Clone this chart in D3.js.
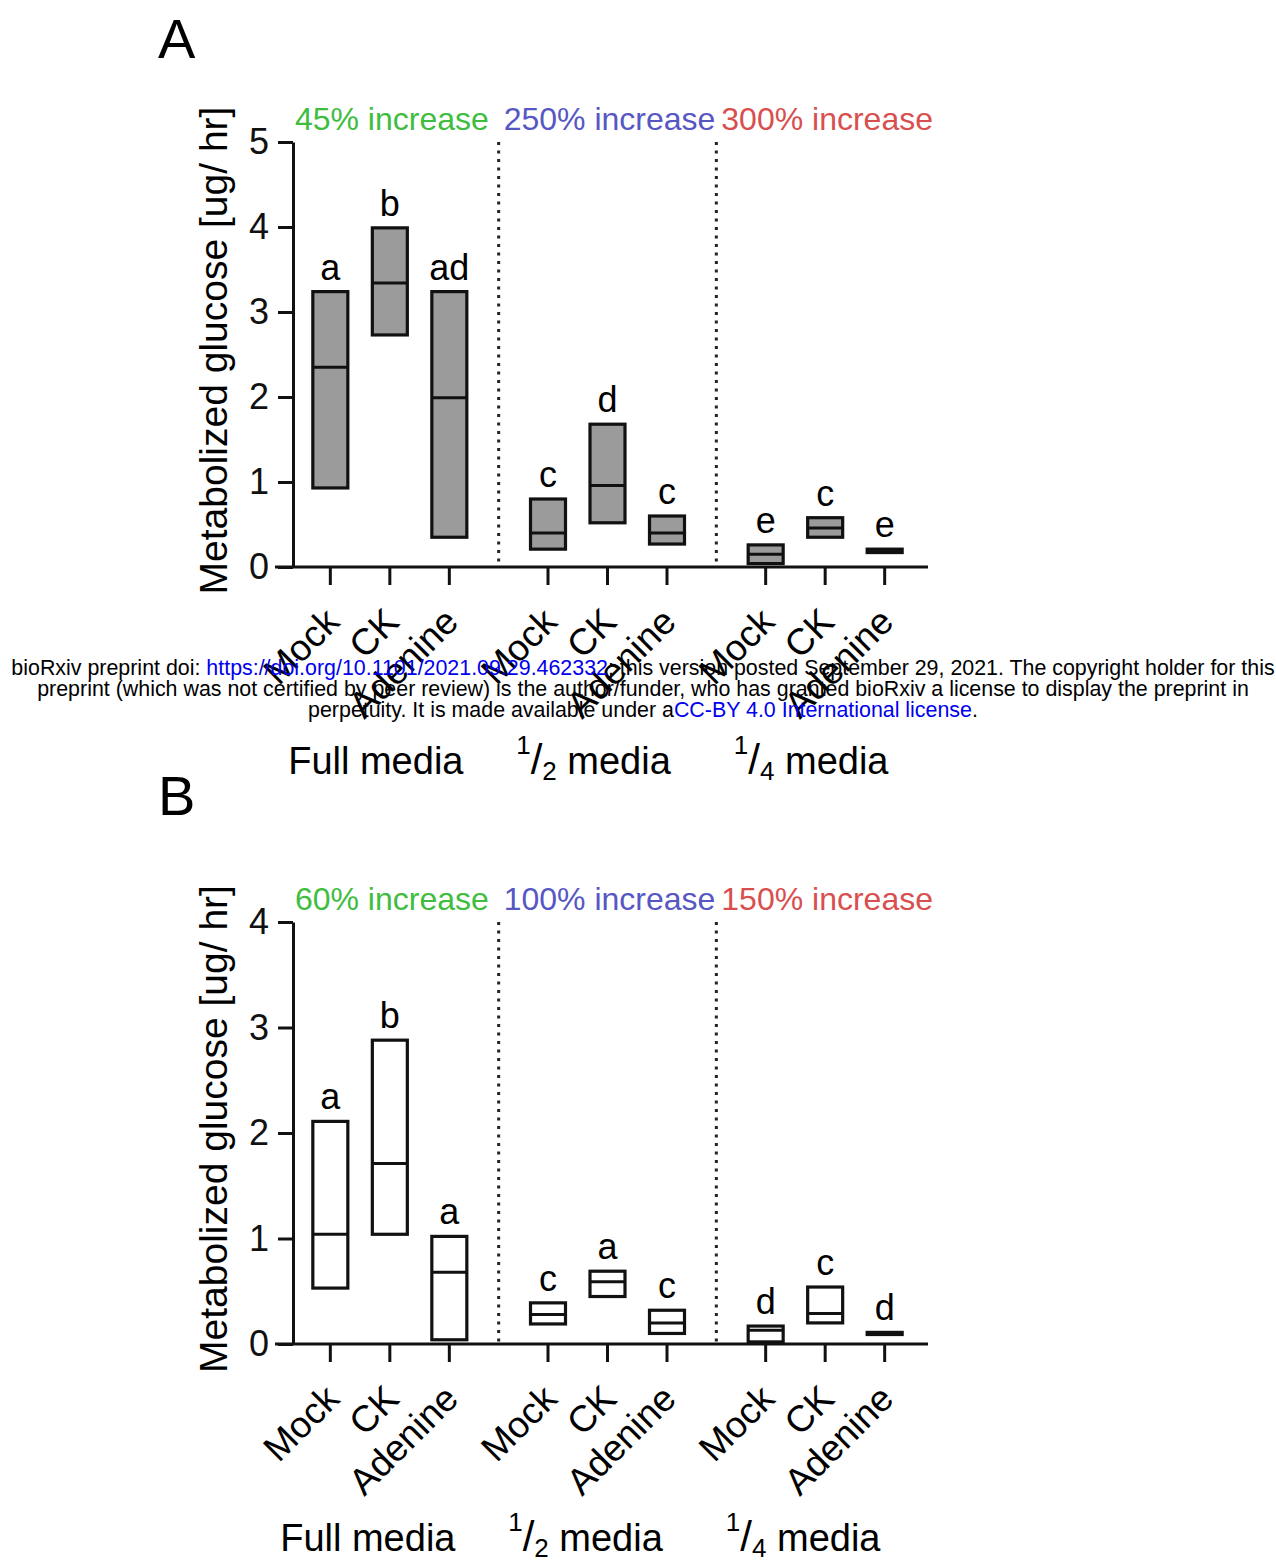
<!DOCTYPE html>
<html>
<head>
<meta charset="utf-8">
<script src="https://cdn.jsdelivr.net/npm/d3@7"></script>
<style>
	body { margin: 0; background: #fff; }
	svg { display: block; font-family: "Liberation Sans", Arial, Helvetica, sans-serif; }
	.bar { stroke: #111; stroke-width: 3.2px; }
	.median { stroke: #111; stroke-width: 3px; }
	.divider { stroke: #222; stroke-width: 3px; stroke-dasharray: 3,5.5; }
	.axis path, .axis line, .baseline, .xtick { stroke: #111; stroke-width: 3px; }
</style>
</head>
<body>
<script>

// categories
const treatments = ["Mock", "CK", "Adenine"];
const mediaKeys = ["full", "half", "quarter"];
const mediaLabels = ["Full media", "1/2 media", "1/4 media"];
const increaseColors = ["#3fbd3f", "#5757c4", "#d94f4f"];

// panel A: min / max / median per bar (Full Mock, CK, Adenine, 1/2 ..., 1/4 ...)
const aMin = [0.93, 2.73, 0.35, 0.21, 0.52, 0.27, 0.04, 0.35, 0.17];
const aMax = [3.24, 3.99, 3.24, 0.80, 1.68, 0.60, 0.26, 0.58, 0.21];
const aMed = [2.35, 3.34, 1.99, 0.40, 0.96, 0.40, 0.15, 0.46, 0.19];
const aLetters = ["a", "b", "ad", "c", "d", "c", "e", "c", "e"];
const aIncrease = ["45% increase", "250% increase", "300% increase"];
const aTicks = [0, 1, 2, 3, 4, 5];

// panel B
const bMin = [0.53, 1.04, 0.04, 0.19, 0.45, 0.10, 0.02, 0.20, 0.09];
const bMax = [2.11, 2.88, 1.02, 0.39, 0.69, 0.32, 0.17, 0.54, 0.11];
const bMed = [1.04, 1.71, 0.68, 0.28, 0.59, 0.20, 0.13, 0.29, 0.10];
const bLetters = ["a", "b", "a", "c", "a", "c", "d", "c", "d"];
const bIncrease = ["60% increase", "100% increase", "150% increase"];
const bTicks = [0, 1, 2, 3, 4];

const yTitle = "Metabolized glucose [ug/ hr]";

const svg = d3.select("body").append("svg")
	.attr("width", 1276)
	.attr("height", 1563);

svg.append("rect").attr("width", 1276).attr("height", 1563).attr("fill", "#fff");

// group scale + position inside the group
const x0 = d3.scaleBand().domain(mediaKeys).range([281, 934]);
const x1 = d3.scalePoint().domain(treatments).range([-59.5, 59.5]);
const barW = 35;
const axisX = 293;

function groupCenter(m) { return x0(m) + x0.bandwidth() / 2; }

function drawPanel(p) {
	const rows = d3.range(9).map(i => ({
		media: mediaKeys[Math.floor(i / 3)],
		treat: treatments[i % 3],
		min: p.mins[i], max: p.maxs[i], med: p.meds[i],
		letter: p.letters[i]
	}));
	const xPos = d => groupCenter(d.media) + x1(d.treat);

	const y = d3.scaleLinear()
		.domain([0, d3.max(p.ticks)])
		.range([p.bottom, p.top]);

	const g = svg.append("g");

	// panel letter
	g.append("text")
		.attr("x", 158).attr("y", p.letterY)
		.style("font-size", "56px")
		.text(p.name);

	// dotted dividers between media groups
	g.selectAll(".divider")
		.data(mediaKeys.slice(1))
		.enter().append("line")
		.attr("class", "divider")
		.attr("x1", d => x0(d)).attr("x2", d => x0(d))
		.attr("y1", y.range()[1]).attr("y2", y(0));

	// floating bars
	g.selectAll(".bar")
		.data(rows)
		.enter().append("rect")
		.attr("class", "bar")
		.attr("x", d => xPos(d) - barW / 2)
		.attr("width", barW)
		.attr("y", d => y(d.max))
		.attr("height", d => y(d.min) - y(d.max))
		.attr("fill", p.fill);

	g.selectAll(".median")
		.data(rows)
		.enter().append("line")
		.attr("class", "median")
		.attr("x1", d => xPos(d) - barW / 2)
		.attr("x2", d => xPos(d) + barW / 2)
		.attr("y1", d => y(d.med)).attr("y2", d => y(d.med));

	// significance letters
	g.selectAll(".sig")
		.data(rows)
		.enter().append("text")
		.attr("class", "sig")
		.attr("x", d => xPos(d))
		.attr("y", d => y(d.max) - 12)
		.attr("text-anchor", "middle")
		.style("font-size", "36px")
		.text(d => d.letter);

	// y axis
	const yAxis = d3.axisLeft(y)
		.tickValues(p.ticks)
		.tickFormat(d3.format("d"))
		.tickSize(15)
		.tickSizeOuter(0)
		.tickPadding(9);
	g.append("g")
		.attr("class", "axis")
		.attr("transform", "translate(" + axisX + ",0)")
		.call(yAxis)
		.call(a => a.selectAll("text")
			.style("font-size", "36px")
			.style("font-family", "inherit")
			.attr("fill", "#111"));

	// x axis baseline + ticks
	g.append("line")
		.attr("class", "baseline")
		.attr("x1", axisX - 18).attr("x2", 928)
		.attr("y1", y(0)).attr("y2", y(0));

	g.selectAll(".xtick")
		.data(rows)
		.enter().append("line")
		.attr("class", "xtick")
		.attr("x1", xPos).attr("x2", xPos)
		.attr("y1", y(0)).attr("y2", y(0) + 18);

	g.selectAll(".xlabel")
		.data(rows)
		.enter().append("text")
		.attr("class", "xlabel")
		.attr("text-anchor", "end")
		.attr("transform", d => "translate(" + (xPos(d) + 11) + "," + (y(0) + 57) + ") rotate(-45)")
		.style("font-size", "37px")
		.text(d => d.treat);

	// media group labels with stacked fractions
	const ml = g.selectAll(".media")
		.data(mediaKeys)
		.enter().append("text")
		.attr("class", "media")
		.attr("x", d => groupCenter(d) + p.mediaShift)
		.attr("y", y(0) + 207)
		.attr("text-anchor", "middle")
		.style("font-size", "38px");

	ml.each(function(d, i) {
		const t = d3.select(this);
		const lab = mediaLabels[i];
		const m = lab.match(/^(\d)\/(\d) (.*)$/);
		if (!m) { t.text(lab); return; }
		t.append("tspan").attr("dy", -20).style("font-size", "26px").text(m[1]);
		t.append("tspan").attr("dy", 20).style("font-size", "42px").text("/");
		t.append("tspan").attr("dy", 6).style("font-size", "26px").text(m[2]);
		t.append("tspan").attr("dy", -6).text(" " + m[3]);
	});

	// % increase headers
	g.selectAll(".increase")
		.data(p.increases)
		.enter().append("text")
		.attr("class", "increase")
		.attr("x", (d, i) => groupCenter(mediaKeys[i]) + 2)
		.attr("y", y.range()[1] - 12)
		.attr("text-anchor", "middle")
		.attr("fill", (d, i) => increaseColors[i])
		.style("font-size", "32px")
		.text(d => d);

	// y title
	g.append("text")
		.attr("transform", "translate(227," + ((y.range()[0] + y.range()[1]) / 2 - 4) + ") rotate(-90)")
		.attr("text-anchor", "middle")
		.style("font-size", "39px")
		.text(yTitle);
}

drawPanel({
	name: "A", letterY: 58, top: 142, bottom: 567, ticks: aTicks,
	mins: aMin, maxs: aMax, meds: aMed, letters: aLetters, increases: aIncrease,
	fill: "#9b9b9b", mediaShift: -14
});

drawPanel({
	name: "B", letterY: 815, top: 922, bottom: 1344, ticks: bTicks,
	mins: bMin, maxs: bMax, meds: bMed, letters: bLetters, increases: bIncrease,
	fill: "#fff", mediaShift: -22
});

// bioRxiv stamp, drawn on top of the figure
const stamp = svg.append("g")
	.attr("text-anchor", "middle")
	.style("font-size", "21.4px")
	.attr("fill", "#000");

const l1 = stamp.append("text").attr("x", 643).attr("y", 675);
l1.append("tspan").text("bioRxiv preprint doi: ");
l1.append("tspan").attr("fill", "#0000ee").text("https://doi.org/10.1101/2021.09.29.462332");
l1.append("tspan").text("; this version posted September 29, 2021. The copyright holder for this");

stamp.append("text").attr("x", 643).attr("y", 696)
	.text("preprint (which was not certified by peer review) is the author/funder, who has granted bioRxiv a license to display the preprint in");

const l3 = stamp.append("text").attr("x", 643).attr("y", 717);
l3.append("tspan").text("perpetuity. It is made available under a");
l3.append("tspan").attr("fill", "#0000ee").text("CC-BY 4.0 International license");
l3.append("tspan").text(".");

</script>
</body>
</html>
